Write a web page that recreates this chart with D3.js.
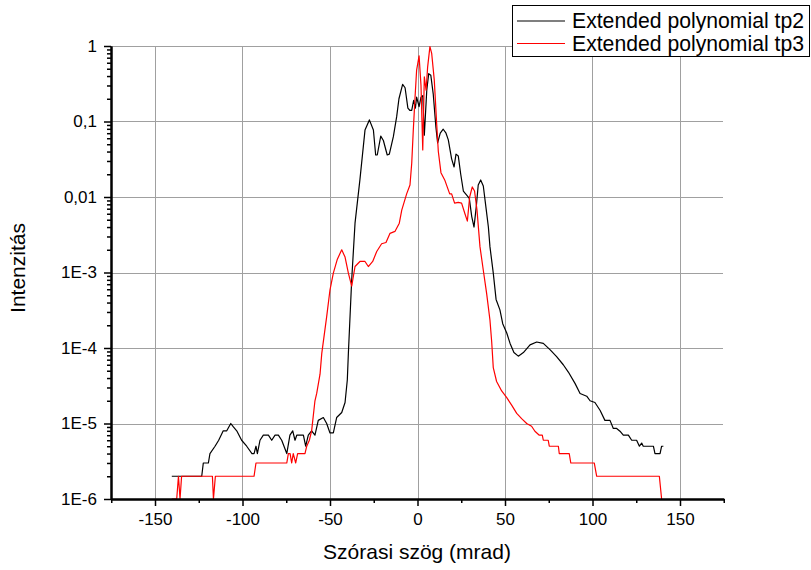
<!DOCTYPE html>
<html>
<head>
<meta charset="utf-8">
<script src="https://cdn.jsdelivr.net/npm/d3@7"></script>
<style>
  body { margin: 0; background: #fff; }
  text { font-family: "Liberation Sans", Arial, sans-serif; }
</style>
</head>
<body>
<svg id="chart" width="811" height="570"></svg>
<script>
// scattering angle (mrad) and intensity
const tp2Angle = [-140.4, -123.3, -122.4, -119.5, -118.6, -115.7, -113.6, -111, -109, -106.7, -105.2, -103.3, -100.5, -97.6, -94.6, -93.4, -92.3, -91.5, -90, -88.1, -85.2, -83.3, -81.4, -79.5, -77.6, -74.7, -72.9, -71.3, -70, -69, -65.2, -63.9, -62.4, -60.5, -58.6, -56.7, -53.8, -51.9, -50, -48.1, -46.2, -43.3, -41.4, -40.1, -39.5, -37.6, -35.7, -32.9, -30, -27.5, -25.2, -23.9, -23, -21, -19.5, -17.3, -16.1, -13.8, -11.9, -10.6, -8.5, -7.1, -5.5, -4.3, -3.3, -2.2, -1.2, -0.5, 0.9, 2, 3, 3.9, 5.3, 6.4, 7.6, 9, 10.5, 11.5, 13, 14.7, 16.3, 17.6, 19.5, 20.9, 22, 23.3, 24.7, 26.2, 28.1, 29.6, 31, 32.3, 33.6, 34.7, 36.1, 37.6, 39.2, 40.5, 41.4, 43.3, 44.9, 47.1, 48.7, 51, 52.9, 55.1, 57.6, 60.5, 64.3, 68.1, 71.9, 75.7, 79.5, 83.3, 86.2, 90, 92.9, 96.7, 98.6, 101.4, 104.3, 107.1, 110, 111.9, 113.8, 115.7, 117.6, 120.5, 122.4, 125.2, 126.8, 128.1, 129, 134.8, 135.7, 138.6, 139.5, 140.5];
const tp2Intensity = [2e-6, 2e-6, 3e-6, 3e-6, 4e-6, 5e-6, 6e-6, 8e-6, 8e-6, 1e-5, 9e-6, 8e-6, 6e-6, 5e-6, 4e-6, 4e-6, 5e-6, 4e-6, 6e-6, 7e-6, 7e-6, 6e-6, 7e-6, 7e-6, 6e-6, 4e-6, 7e-6, 8e-6, 6e-6, 7e-6, 7e-6, 5e-6, 7e-6, 8e-6, 7e-6, 1.1e-5, 1.2e-5, 1e-5, 7.5e-6, 7.5e-6, 1.2e-5, 1.4e-5, 1.9e-5, 3.8e-5, 8.5e-5, 8e-4, 4.5e-3, 0.017, 0.077, 0.105, 0.077, 0.036, 0.036, 0.064, 0.056, 0.036, 0.037, 0.063, 0.116, 0.2, 0.31, 0.28, 0.15, 0.14, 0.14, 0.19, 0.15, 0.21, 0.157, 0.21, 0.22, 0.066, 0.26, 0.43, 0.41, 0.23, 0.085, 0.052, 0.07, 0.079, 0.07, 0.057, 0.032, 0.025, 0.037, 0.035, 0.02, 0.012, 0.0106, 0.0096, 0.0055, 0.004, 0.0075, 0.0144, 0.0168, 0.014, 0.007, 0.004, 0.0022, 9.8e-4, 4.4e-4, 3.2e-4, 2.1e-4, 1.58e-4, 1.15e-4, 8.7e-5, 7.8e-5, 8.7e-5, 1.1e-4, 1.2e-4, 1.15e-4, 9.5e-5, 7.7e-5, 6e-5, 4.8e-5, 3.4e-5, 2.5e-5, 2.3e-5, 2e-5, 1.9e-5, 1.5e-5, 1.1e-5, 1.1e-5, 8.6e-6, 8.6e-6, 7.9e-6, 7e-6, 7e-6, 6e-6, 6e-6, 5e-6, 5.5e-6, 5e-6, 5e-6, 4e-6, 4e-6, 5e-6, 5e-6];

const tp3Angle = [-140.4, -137.6, -136.6, -135.7, -134.8, -117.2, -116.6, -115.5, -93.4, -92.3, -74.7, -73.8, -72.8, -71.9, -71, -69.6, -68.5, -64.3, -63.3, -61.8, -60.5, -58.6, -57.6, -55.7, -54.7, -51.9, -50, -48.1, -45.8, -43.3, -41.4, -39.5, -37.6, -35.7, -32.9, -30, -28.1, -25.6, -23.3, -20.5, -18, -15.7, -12.9, -10.4, -9, -6.2, -4.3, -3.3, -2.4, -1.4, -0.5, 0.9, 2, 3, 3.9, 4.9, 5.8, 7.1, 8.1, 9.6, 11, 11.9, 13.4, 15.7, 18.4, 19.5, 21.2, 23.3, 25.2, 27.1, 28.5, 29.8, 31.3, 32.6, 34, 35.7, 37.6, 39.5, 41.4, 42.4, 43.3, 45.2, 48.1, 51, 53.8, 56.7, 59.5, 62.4, 65.2, 67.1, 69.6, 71.3, 71.9, 74.7, 75.3, 80.5, 81, 86.7, 87.6, 101, 102.4, 138.2, 139.5];
const tp3Intensity = [1e-6, 1e-6, 2e-6, 1e-6, 2e-6, 2e-6, 1e-6, 2e-6, 2e-6, 3e-6, 3e-6, 4e-6, 4e-6, 3e-6, 4e-6, 3e-6, 4e-6, 4e-6, 5e-6, 6e-6, 8e-6, 2e-5, 2.5e-5, 4.5e-5, 8.5e-5, 2.6e-4, 5.9e-4, 9.8e-4, 1.5e-3, 2.0e-3, 1.6e-3, 9.8e-4, 6.6e-4, 1.2e-3, 1.4e-3, 1.4e-3, 1.2e-3, 1.4e-3, 1.9e-3, 2.4e-3, 2.5e-3, 3.3e-3, 3.5e-3, 4.5e-3, 6.7e-3, 0.011, 0.0144, 0.028, 0.077, 0.21, 0.48, 0.74, 0.3, 0.042, 0.39, 0.26, 0.53, 0.98, 0.8, 0.35, 0.09, 0.04, 0.021, 0.0165, 0.011, 0.011, 0.0083, 0.0085, 0.0083, 0.006, 0.0048, 0.01, 0.0136, 0.012, 0.0067, 0.0022, 1.07e-3, 5.3e-4, 2.35e-4, 1.2e-4, 5.5e-5, 3.6e-5, 2.7e-5, 2.2e-5, 1.75e-5, 1.36e-5, 1.16e-5, 1e-5, 9.2e-6, 7.9e-6, 7e-6, 7e-6, 6e-6, 6e-6, 5e-6, 5e-6, 4e-6, 4e-6, 3e-6, 3e-6, 2e-6, 2e-6, 1e-6];

const seriesNames = ["Extended polynomial tp2", "Extended polynomial tp3"];
const seriesColors = ["#000000", "#ff0000"];

const xTicks = [-150, -100, -50, 0, 50, 100, 150];
const xMinorTicks = [-175, -125, -75, -25, 25, 75, 125, 175];
const yTicks = [1e-6, 1e-5, 1e-4, 1e-3, 0.01, 0.1, 1];
const yTickLabels = ["1E-6", "1E-5", "1E-4", "1E-3", "0,01", "0,1", "1"];

const svg = d3.select("#chart");
const plotLeft = 111, plotRight = 723, plotTop = 46, plotBottom = 499;

const x = d3.scaleLinear().domain([-175, 175]).range([111.25, 723.75]);
const y = d3.scaleLog().domain([1e-6, 1]).range([plotBottom, plotTop]);

// grid
const grid = svg.append("g").attr("stroke", "#a0a0a0").attr("stroke-width", 1);
grid.selectAll("line.v")
  .data(xTicks)
  .enter()
  .append("line")
  .attr("x1", (d) => Math.round(x(d)) + 0.5)
  .attr("x2", (d) => Math.round(x(d)) + 0.5)
  .attr("y1", plotTop)
  .attr("y2", plotBottom);
grid.selectAll("line.h")
  .data(yTicks.slice(1))
  .enter()
  .append("line")
  .attr("x1", plotLeft)
  .attr("x2", plotRight)
  .attr("y1", (d) => Math.round(y(d)) + 0.5)
  .attr("y2", (d) => Math.round(y(d)) + 0.5);

svg.append("clipPath")
  .attr("id", "plot-clip")
  .append("rect")
  .attr("x", plotLeft)
  .attr("y", plotTop - 2)
  .attr("width", plotRight - plotLeft)
  .attr("height", plotBottom - plotTop + 3);

const line = d3.line().x((d) => x(d[0])).y((d) => y(d[1]));
const series = [d3.zip(tp2Angle, tp2Intensity), d3.zip(tp3Angle, tp3Intensity)];

svg.append("g")
  .attr("clip-path", "url(#plot-clip)")
  .selectAll("path")
  .data(series)
  .enter()
  .append("path")
  .attr("d", line)
  .attr("fill", "none")
  .attr("stroke", (d, i) => seriesColors[i])
  .attr("stroke-width", 1.2)
  .attr("stroke-linejoin", "round");

// axes
function styleAxis(g) {
  g.select(".domain").attr("stroke", "#000").attr("stroke-width", 2);
  g.selectAll(".tick line").attr("stroke", "#000").attr("stroke-width", 1.5);
  g.selectAll("text").attr("fill", "#000").style("font-size", "17px")
    .style("font-family", '"Liberation Sans", Arial, sans-serif');
}

svg.append("g")
  .attr("transform", `translate(0,${plotBottom})`)
  .call(d3.axisBottom(x).tickValues(xMinorTicks).tickSize(4).tickSizeOuter(0).tickFormat(""))
  .call(styleAxis);
svg.append("g")
  .attr("transform", `translate(0,${plotBottom})`)
  .call(d3.axisBottom(x).tickValues(xTicks).tickSize(7).tickSizeOuter(0).tickPadding(7).tickFormat((d) => d))
  .call(styleAxis);

const yMinor = y.ticks().filter((d) => !yTicks.some((t) => Math.abs(t - d) / t < 1e-6));
svg.append("g")
  .attr("transform", `translate(${plotLeft},0)`)
  .call(d3.axisLeft(y).tickValues(yMinor).tickSize(4).tickSizeOuter(0).tickFormat(""))
  .call(styleAxis);
svg.append("g")
  .attr("transform", `translate(${plotLeft},0)`)
  .call(d3.axisLeft(y).tickValues(yTicks).tickSize(7).tickSizeOuter(0).tickPadding(7)
    .tickFormat((d, i) => yTickLabels[i]))
  .call(styleAxis);

// axis titles
svg.append("text")
  .attr("x", 417)
  .attr("y", 559)
  .attr("text-anchor", "middle")
  .style("font-size", "21px")
  .text("Szórasi szög (mrad)");

svg.append("text")
  .attr("transform", "translate(25,268) rotate(-90)")
  .attr("text-anchor", "middle")
  .style("font-size", "21px")
  .text("Intenzitás");

// legend
const legend = svg.append("g");
legend.append("rect")
  .attr("x", 512.5)
  .attr("y", 5.5)
  .attr("width", 297)
  .attr("height", 51)
  .attr("fill", "#fff")
  .attr("stroke", "#000")
  .attr("stroke-width", 1);

const rows = legend.selectAll("g.row")
  .data(seriesNames)
  .enter()
  .append("g")
  .attr("transform", (d, i) => `translate(0,${21 + i * 22.5})`);
rows.append("line")
  .attr("x1", 517)
  .attr("x2", 565)
  .attr("stroke", (d, i) => seriesColors[i])
  .attr("stroke-width", 1.2);
rows.append("text")
  .attr("x", 572)
  .attr("y", 7)
  .style("font-size", "21.2px")
  .text((d) => d);
</script>
</body>
</html>
